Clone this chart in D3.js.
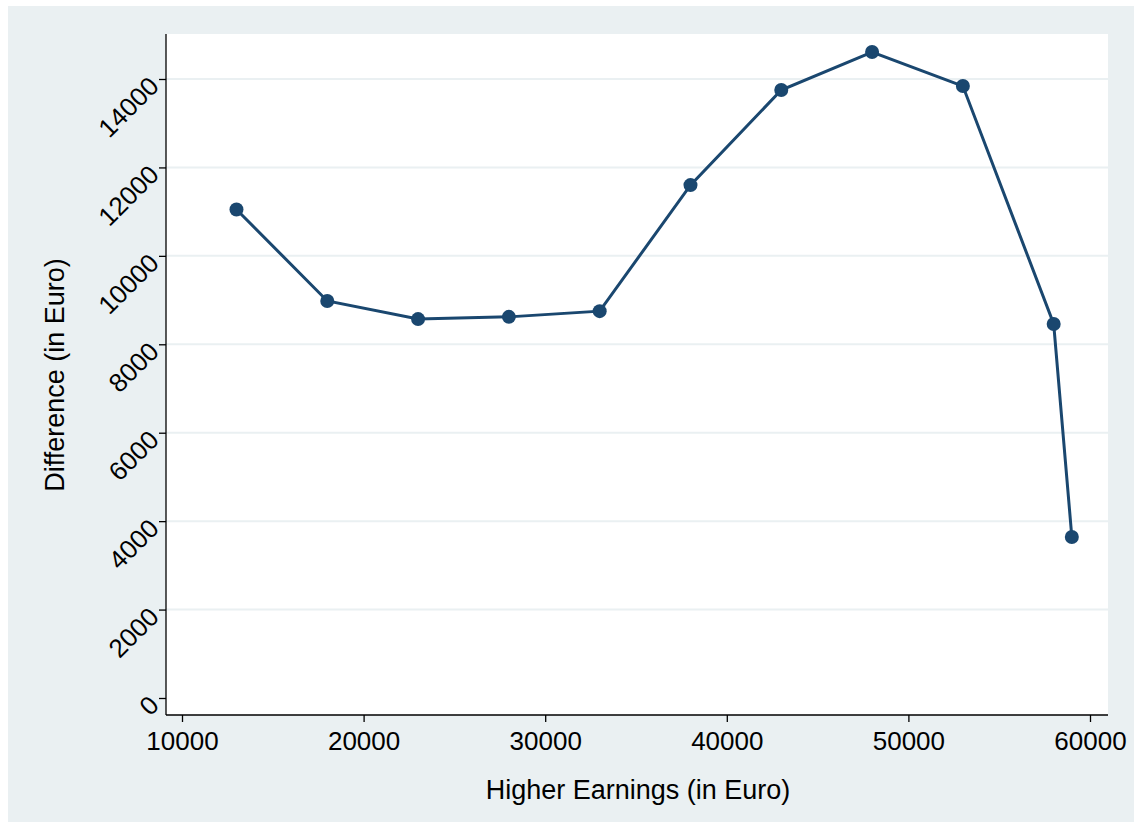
<!DOCTYPE html>
<html><head><meta charset="utf-8">
<script src="https://cdn.jsdelivr.net/npm/d3@7"></script>
<style>body{margin:0;background:#fff}text{font-family:"Liberation Sans",Arial,sans-serif}</style>
</head><body><div id="container"></div>
<script>
/* DATA */
const earnings = [13000, 18000, 23000, 28000, 33000, 38000, 43000, 48000, 53000, 58000, 59000]
const difference = [11050, 8980, 8570, 8620, 8750, 11600, 13750, 14610, 13840, 8460, 3640]
const xTicks = [10000, 20000, 30000, 40000, 50000, 60000]
const yTicks = [0, 2000, 4000, 6000, 8000, 10000, 12000, 14000]

const width = 1134, height = 822

const svg = d3.select("#container").append("svg")
  .attr("width", width).attr("height", height)

// outer panel
svg.append("rect").attr("x", 8).attr("y", 6).attr("width", 1126).attr("height", 816).attr("fill", "#eaf0f2")
svg.append("rect").attr("x", 166).attr("y", 34).attr("width", 942).attr("height", 681).attr("fill", "white")

// SCALES
const xScale = d3.scaleLinear().domain([10000, 60000]).range([182, 1090])
const yScale = d3.scaleLinear().domain([0, 14000]).range([698, 79])

// gridlines
svg.selectAll("line.grid").data(yTicks.slice(1)).join("line")
  .attr("class", "grid")
  .attr("x1", 166).attr("x2", 1108)
  .attr("y1", d => yScale(d)).attr("y2", d => yScale(d))
  .attr("stroke", "#eaf0f2").attr("stroke-width", 2)

// AXES
const xAxis = svg.append("g").attr("transform", "translate(0,715)")
  .call(d3.axisBottom(xScale).tickValues(xTicks).tickFormat(d3.format("d")).tickSize(7).tickSizeOuter(0))
xAxis.select(".domain").attr("d", "M166,0H1108")
xAxis.selectAll("text").style("font-size", "26px").attr("y", 12).attr("dy", "0.9em")

const yAxis = svg.append("g").attr("transform", "translate(166,0)")
  .call(d3.axisLeft(yScale).tickValues(yTicks).tickFormat(d3.format("d")).tickSize(7).tickSizeOuter(0))
yAxis.select(".domain").attr("d", "M0,34V715")
yAxis.selectAll("text").style("font-size", "26px")
  .attr("text-anchor", "end").attr("x", null).attr("dy", null)
  .attr("transform", "translate(-12,2) rotate(-45)")
  .attr("dominant-baseline", "central")
svg.selectAll(".tick line, .domain").attr("stroke", "black").attr("stroke-width", 1.3)

// axis titles
svg.append("text").attr("x", 638).attr("y", 799).attr("text-anchor", "middle")
  .style("font-size", "27px").text("Higher Earnings (in Euro)")
svg.append("text").attr("transform", "translate(64,375) rotate(-90)").attr("text-anchor", "middle")
  .style("font-size", "27px").text("Difference (in Euro)")

// LINE
const data = earnings.map((e, i) => ({ x: e, y: difference[i] }))
svg.append("path").datum(data)
  .attr("fill", "none").attr("stroke", "#1a476f").attr("stroke-width", 3)
  .attr("d", d3.line().x(d => xScale(d.x)).y(d => yScale(d.y)))
svg.selectAll("circle.pt").data(data).join("circle")
  .attr("class", "pt").attr("cx", d => xScale(d.x)).attr("cy", d => yScale(d.y))
  .attr("r", 7).attr("fill", "#1a476f")
</script></body></html>
